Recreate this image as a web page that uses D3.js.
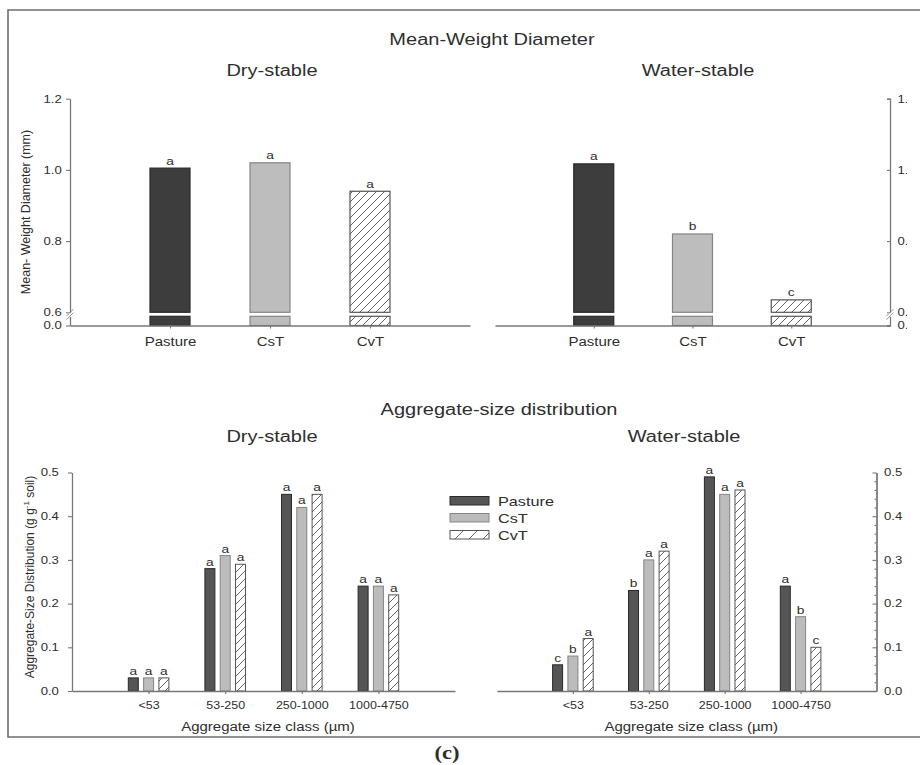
<!DOCTYPE html>
<html><head><meta charset="utf-8">
<script src="https://cdn.jsdelivr.net/npm/d3@7"></script>
<style>
body{margin:0;background:#fff;}
svg text{font-family:"Liberation Sans",Arial,sans-serif;fill:#2e2e2e;}
</style></head><body>
<svg id="chart" width="920" height="765"></svg>
<script>
// ---------- data ----------
const mwdCategories = ["Pasture", "CsT", "CvT"];
const mwdDry = [1.005, 1.02, 0.94];
const mwdDryLetters = ["a", "a", "a"];
const mwdWater = [1.017, 0.82, 0.635];
const mwdWaterLetters = ["a", "b", "c"];
const mwdTicks = [0.0, 0.6, 0.8, 1.0, 1.2];

const sizeClasses = ["<53", "53-250", "250-1000", "1000-4750"];
const treatments = ["Pasture", "CsT", "CvT"];
const dryPasture = [0.03, 0.28, 0.45, 0.24];
const dryCsT     = [0.03, 0.31, 0.42, 0.24];
const dryCvT     = [0.03, 0.29, 0.45, 0.22];
const dryPastureLetters = ["a", "a", "a", "a"];
const dryCsTLetters     = ["a", "a", "a", "a"];
const dryCvTLetters     = ["a", "a", "a", "a"];
const waterPasture = [0.06, 0.23, 0.49, 0.24];
const waterCsT     = [0.08, 0.30, 0.45, 0.17];
const waterCvT     = [0.12, 0.32, 0.46, 0.10];
const waterPastureLetters = ["c", "b", "a", "a"];
const waterCsTLetters     = ["b", "a", "a", "b"];
const waterCvTLetters     = ["a", "a", "a", "c"];
const asdTicks = [0.0, 0.1, 0.2, 0.3, 0.4, 0.5];
const asdMinorTicks = [0.02, 0.04, 0.06, 0.08, 0.12, 0.14, 0.16, 0.18, 0.22, 0.24, 0.26, 0.28,
                       0.32, 0.34, 0.36, 0.38, 0.42, 0.44, 0.46, 0.48];

// ---------- styles ----------
const SX = 1.25; // horizontal stretch of the reference picture
const AXIS = "#777";
const fillOf = {Pasture: "#3d3d3d", CsT: "#bdbdbd", CvT: "url(#hatch)"};
const fillOfB = {Pasture: "#555555", CsT: "#bcbcbc", CvT: "url(#hatch)"};
const strokeOf = {Pasture: "#2a2a2a", CsT: "#858585", CvT: "#555"};

const svg = d3.select("#chart");
const defs = svg.append("defs");
function hatch(id, s) {
  const p = defs.append("pattern").attr("id", id).attr("patternUnits", "userSpaceOnUse")
    .attr("width", s).attr("height", s);
  p.append("rect").attr("width", s).attr("height", s).attr("fill", "#fff");
  p.append("path").attr("d", `M${-s/4},${s/4} L${s/4},${-s/4} M0,${s} L${s},0 M${s*3/4},${s*5/4} L${s*5/4},${s*3/4}`)
    .attr("stroke", "#555").attr("stroke-width", 0.9);
}
hatch("hatch", 8);
hatch("hatchL", 14);
defs.append("clipPath").attr("id", "rclip").append("rect")
  .attr("x", 0).attr("y", 0).attr("width", 907).attr("height", 765);

function stext(g, x, y, str, size, anchor) {
  return g.append("text")
    .attr("transform", `translate(${x},${y}) scale(${SX},1)`)
    .attr("text-anchor", anchor || "middle")
    .style("font-size", size + "px")
    .text(str);
}
function styleAxis(g, fs) {
  g.selectAll("path.domain").attr("stroke", AXIS).attr("stroke-width", 1.3);
  g.selectAll(".tick line").attr("stroke", AXIS).attr("stroke-width", 1.1);
  g.selectAll(".tick text").attr("fill", "#2e2e2e")
    .style("font-size", fs + "px").style("font-family", '"Liberation Sans",Arial,sans-serif')
    .attr("transform", `scale(${SX},1)`);
}

// ---------- frame ----------
svg.append("path").attr("d", "M920,10 H8 V737 H920")
  .attr("fill", "none").attr("stroke", "#6e6e6e").attr("stroke-width", 1.6);

// ---------- titles ----------
stext(svg, 492, 45, "Mean-Weight Diameter", 16);
stext(svg, 272, 76, "Dry-stable", 16);
stext(svg, 698, 76, "Water-stable", 16);
stext(svg, 499, 415, "Aggregate-size distribution", 16);
stext(svg, 272, 442, "Dry-stable", 16);
stext(svg, 684, 442, "Water-stable", 16);

// ---------- Mean-weight diameter panels ----------
function drawMwd(x0, x1, values, letters, side) {
  const g = svg.append("g");
  const x = d3.scalePoint().domain(mwdCategories).range([x0, x1]).padding(1);
  const y = d3.scaleLinear().domain([0, 0.6, 1.2]).range([325.5, 312.3, 98.7]);
  const bw = 40;
  mwdCategories.forEach((c, i) => {
    const v = values[i];
    g.append("rect").attr("x", x(c) - bw / 2).attr("y", y(v))
      .attr("width", bw).attr("height", y(0.6) - y(v))
      .attr("fill", fillOf[c]).attr("stroke", strokeOf[c]).attr("stroke-width", 1.2);
    g.append("rect").attr("x", x(c) - bw / 2).attr("y", y(0.6) + 4)
      .attr("width", bw).attr("height", y(0) - y(0.6) - 4)
      .attr("fill", fillOf[c]).attr("stroke", strokeOf[c]).attr("stroke-width", 1.2);
    stext(g, x(c), y(v) - 3.5, letters[i], 11);
  });
  const gx = g.append("g").attr("transform", `translate(0,${y(0)})`)
    .call(d3.axisBottom(x).tickSize(3).tickSizeOuter(0).tickPadding(9));
  styleAxis(gx, 12);
  const ax = side === "left" ? x0 : x1;
  const outer = g.append("g");
  if (side === "right") outer.attr("clip-path", "url(#rclip)");
  const axis = side === "left"
    ? d3.axisLeft(y).tickSize(4).tickPadding(2.6).tickSizeOuter(0)
    : d3.axisRight(y).tickSize(-3).tickPadding(6).tickSizeOuter(-3);
  const gy = outer.append("g").attr("transform", `translate(${ax},0)`)
    .call(axis.tickValues(mwdTicks).tickFormat(d3.format(".1f")));
  styleAxis(gy, 10.5);
  // axis break
  const yb = y(0.6) + 2;
  g.append("rect").attr("x", ax - 2).attr("y", yb - 1.5).attr("width", 4).attr("height", 4).attr("fill", "#fff");
  [-1.8, 1.8].forEach(d => {
    g.append("line").attr("x1", ax - 3.5).attr("y1", yb + d + 3.5).attr("x2", ax + 3.5).attr("y2", yb + d - 3.5)
      .attr("stroke", "#888").attr("stroke-width", 0.9);
  });
  return g;
}
drawMwd(70, 470, mwdDry, mwdDryLetters, "left");
drawMwd(495, 890, mwdWater, mwdWaterLetters, "right");

// y title top
svg.append("text").attr("transform", "translate(29.5,212) rotate(-90)")
  .attr("text-anchor", "middle").style("font-size", "12.5px")
  .text("Mean- Weight Diameter (mm)");

// ---------- Aggregate-size distribution panels ----------
function drawAsd(x0, x1, series, letterSets, side) {
  const g = svg.append("g");
  const x = d3.scalePoint().domain(sizeClasses).range([x0, x1]).padding(1);
  const xb = d3.scaleBand().domain(treatments).range([-20.3, 20.3]).paddingInner(0.346);
  const y = d3.scaleLinear().domain([0, 0.5]).range([691, 472.5]);
  treatments.forEach((t, ti) => {
    sizeClasses.forEach((c, ci) => {
      const v = series[ti][ci];
      const bx = x(c) + xb(t);
      g.append("rect").attr("x", bx).attr("y", y(v))
        .attr("width", xb.bandwidth()).attr("height", y(0) - y(v))
        .attr("fill", fillOfB[t]).attr("stroke", strokeOf[t]).attr("stroke-width", 1);
      stext(g, bx + xb.bandwidth() / 2, y(v) - 3, letterSets[ti][ci], 11);
    });
  });
  const gx = g.append("g").attr("transform", `translate(0,${y(0)})`)
    .call(d3.axisBottom(x).tickSize(3).tickSizeOuter(0).tickPadding(8));
  styleAxis(gx, 10);
  if (side === "left") {
    const gy = g.append("g").attr("transform", `translate(${x0},0)`)
      .call(d3.axisLeft(y).tickValues(asdTicks).tickFormat(d3.format(".1f")).tickSize(4).tickPadding(6.5).tickSizeOuter(0));
    styleAxis(gy, 10.5);
  } else {
    const gm = g.append("g").attr("transform", `translate(${x1},0)`)
      .call(d3.axisRight(y).tickValues(asdMinorTicks).tickFormat("").tickSize(-2).tickSizeOuter(0));
    styleAxis(gm, 10.5);
    const gy = g.append("g").attr("transform", `translate(${x1},0)`)
      .call(d3.axisRight(y).tickValues(asdTicks).tickFormat(d3.format(".1f")).tickSize(-4).tickPadding(6).tickSizeOuter(0));
    styleAxis(gy, 10.5);
  }
  stext(g, (x0 + x1) / 2 + 4.5, 731, "Aggregate size class (µm)", 12);
  return g;
}
drawAsd(72, 455, [dryPasture, dryCsT, dryCvT], [dryPastureLetters, dryCsTLetters, dryCvTLetters], "left");
drawAsd(497, 876.5, [waterPasture, waterCsT, waterCvT], [waterPastureLetters, waterCsTLetters, waterCvTLetters], "right");

// y title bottom
const yt = svg.append("text").attr("transform", "translate(34,577) rotate(-90)")
  .attr("text-anchor", "middle").style("font-size", "12px");
yt.append("tspan").text("Aggregate-Size Distribution (g g");
yt.append("tspan").attr("dy", -5).style("font-size", "8px").text("-1");
yt.append("tspan").attr("dy", 5).text(" soil)");

// ---------- legend ----------
const lg = svg.append("g");
treatments.forEach((t, i) => {
  const ly = 496.5 + i * 17;
  lg.append("rect").attr("x", 450).attr("y", ly).attr("width", 39).attr("height", 8.5)
    .attr("fill", t === "CvT" ? "url(#hatchL)" : fillOfB[t])
    .attr("stroke", strokeOf[t]).attr("stroke-width", 1);
  stext(lg, 498, ly + 9, t, 13, "start");
});

// ---------- caption ----------
stext(svg, 447, 759, "(c)", 18).style("font-family", '"Liberation Serif","Times New Roman",serif')
  .style("font-weight", "bold").attr("fill", "#111");
</script>
</body></html>
